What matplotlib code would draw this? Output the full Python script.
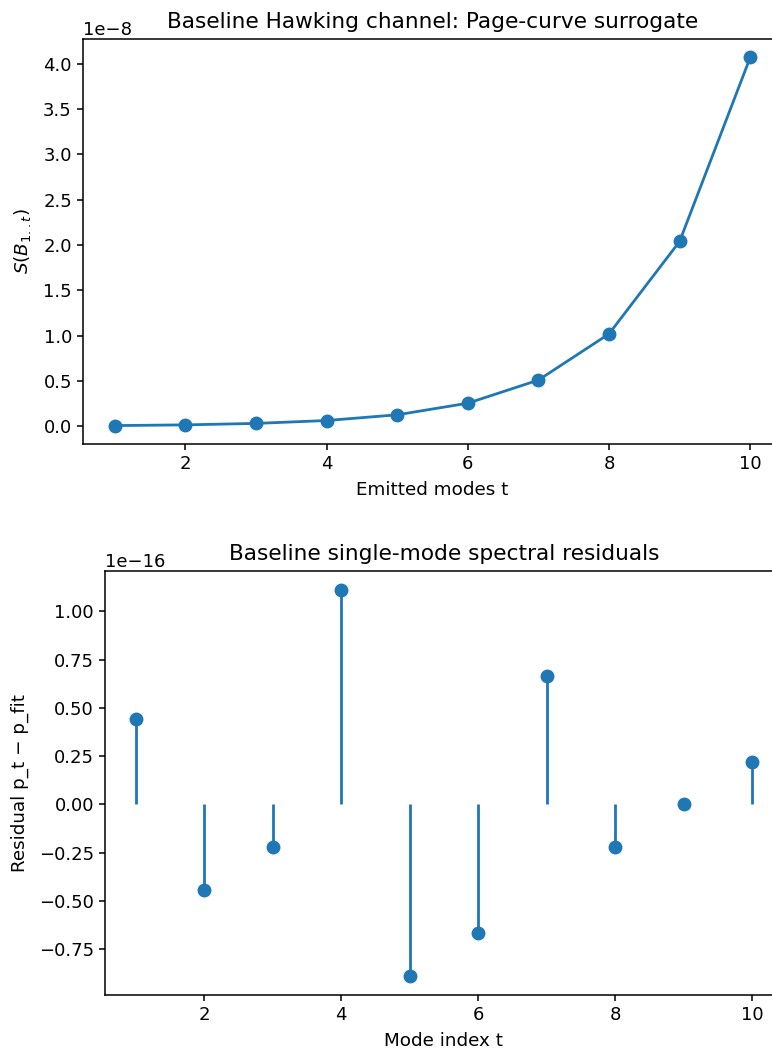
import numpy as np
import matplotlib
matplotlib.use("Agg")
import matplotlib.pyplot as plt

modes = [1, 2, 3, 4, 5, 6, 7, 8, 9, 10]
entropy = [0.008e-8, 0.016e-8, 0.032e-8, 0.064e-8, 0.127e-8, 0.255e-8,
           0.51e-8, 1.02e-8, 2.04e-8, 4.07e-8]
residuals = [0.444e-16, -0.444e-16, -0.222e-16, 1.11e-16, -0.888e-16,
             -0.666e-16, 0.666e-16, -0.222e-16, 0.0, 0.222e-16]

plt.rcParams['font.size'] = 13
plt.rcParams['axes.titlesize'] = 15.6
plt.rcParams['axes.labelsize'] = 13.2

fig = plt.figure(figsize=(7.72, 10.52), dpi=100)
ax1 = fig.add_axes([83/772, 1-444/1052, 699/772, 405/1052])
ax2 = fig.add_axes([105/772, 1-995/1052, 678/772, 424/1052])

ax1.plot(modes, entropy, marker='o', color='#1f77b4', lw=2, markersize=9)
ax1.set_title("Baseline Hawking channel: Page-curve surrogate", pad=8)
ax1.set_xlabel("Emitted modes t", labelpad=6)
ax1.set_ylabel(r"$S(B_{1..t})$", labelpad=7)

markerline, stemlines, baseline = ax2.stem(modes, residuals, basefmt=" ")
plt.setp(markerline, markersize=9, color='#1f77b4')
plt.setp(stemlines, linewidth=2, color='#1f77b4')
ax2.set_title("Baseline single-mode spectral residuals", pad=8)
ax2.set_xlabel("Mode index t", labelpad=6)
ax2.set_ylabel("Residual p_t \u2212 p_fit", labelpad=7)

for ax in (ax1, ax2):
    ax.tick_params(width=1.1, length=4.5)
    for s in ax.spines.values():
        s.set_linewidth(1.1)

fig.savefig("out.png", dpi=100)
